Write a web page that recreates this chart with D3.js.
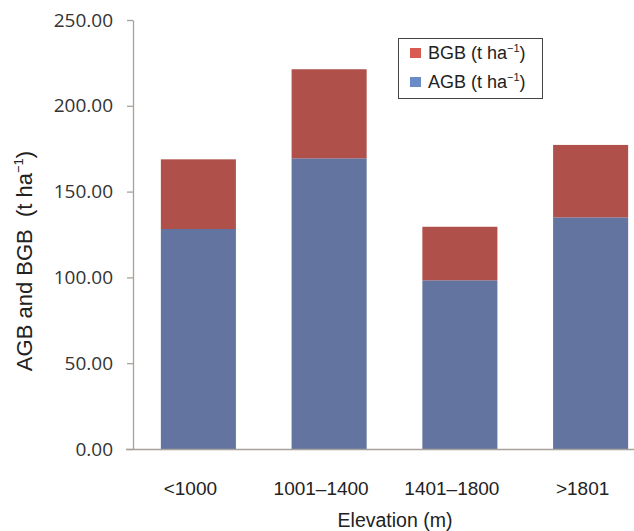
<!DOCTYPE html>
<html>
<head>
<meta charset="utf-8">
<script src="https://cdn.jsdelivr.net/npm/d3@7"></script>
<style>
  html, body { margin: 0; padding: 0; background: #fff; }
  svg { display: block; }
</style>
</head>
<body>
<svg id="chart" width="634" height="531"></svg>
<script>
// Elevation classes and biomass components (t ha-1)
const categories = ["<1000", "1001\u20131400", "1401\u20131800", ">1801"];
const agbValues = [128.2, 169.4, 98.3, 135.0];
const bgbValues = [40.6, 51.9, 31.2, 42.2];
const yTicks = [0, 50, 100, 150, 200, 250];
const seriesNames = ["AGB", "BGB"];

const colors = { AGB: "#62749F", BGB: "#B0504A" };
const legendColors = { AGB: "#6A8BC6", BGB: "#D85A52" };

const svg = d3.select("#chart");

const x0 = 133, plotW = 523, yBottom = 449, yTop = 20;

const x = d3.scaleBand()
  .domain(categories)
  .range([x0, x0 + plotW])
  .paddingInner(0.426)
  .paddingOuter(0.213);

const y = d3.scaleLinear().domain([0, 250]).range([yBottom, yTop]);

const rows = categories.map((c, i) => ({ cat: c, AGB: agbValues[i], BGB: bgbValues[i] }));
const stacked = d3.stack().keys(seriesNames)(rows);

// stacked bars
svg.append("g")
  .selectAll("g")
  .data(stacked)
  .join("g")
  .attr("fill", d => colors[d.key])
  .selectAll("rect")
  .data(d => d)
  .join("rect")
  .attr("x", d => x(d.data.cat))
  .attr("width", x.bandwidth())
  .attr("y", d => y(d[1]))
  .attr("height", d => y(d[0]) - y(d[1]));

// y axis
const yAxis = svg.append("g")
  .attr("transform", `translate(${x0},0)`)
  .call(d3.axisLeft(y).tickValues(yTicks).tickFormat(d3.format(".2f")).tickSize(6).tickPadding(14).tickSizeOuter(0));
yAxis.select(".domain").attr("stroke", "#A8A09A").attr("stroke-width", 1.3);
yAxis.selectAll(".tick line").attr("stroke", "#A8A09A").attr("stroke-width", 1.3);
yAxis.selectAll(".tick text")
  .attr("font-family", "'Open Sans', sans-serif")
  .attr("font-size", 19)
  .attr("fill", "#333");

// x axis
const xAxis = svg.append("g")
  .attr("transform", `translate(0,${yBottom})`)
  .call(d3.axisBottom(x).tickSize(0).tickPadding(0).tickSizeOuter(0));
xAxis.select(".domain").attr("stroke", "#A8A09A").attr("stroke-width", 1.3)
  .attr("d", `M${x0 - 7},0.5H634`);
xAxis.selectAll(".tick text")
  .attr("font-family", "'Liberation Sans', Arial, sans-serif")
  .attr("font-size", 19)
  .attr("fill", "#222")
  .attr("dy", 0)
  .attr("y", 46)
  .attr("dx", -8);

// axis titles
svg.append("text")
  .attr("x", 395)
  .attr("y", 527)
  .attr("text-anchor", "middle")
  .attr("font-family", "'Liberation Sans', Arial, sans-serif")
  .attr("font-size", 19.5)
  .attr("fill", "#222")
  .text("Elevation (m)");

const yTitle = svg.append("text")
  .attr("transform", "translate(32,261) rotate(-90)")
  .attr("text-anchor", "middle")
  .attr("font-family", "'Liberation Sans', Arial, sans-serif")
  .attr("font-size", 22)
  .attr("fill", "#222");
yTitle.append("tspan").text("AGB and BGB \u00a0(t ha");
yTitle.append("tspan").attr("font-size", 13).attr("dy", -9).text("\u22121");
yTitle.append("tspan").attr("dy", 9).text(")");

// legend
const legend = svg.append("g");
legend.append("rect")
  .attr("x", 398.5).attr("y", 38.5)
  .attr("width", 144).attr("height", 60)
  .attr("fill", "#fff").attr("stroke", "#444").attr("stroke-width", 1);

const legendItems = ["BGB", "AGB"];
legendItems.forEach((k, i) => {
  const gy = 48 + i * 29;
  legend.append("rect")
    .attr("x", 410).attr("y", gy)
    .attr("width", 11).attr("height", 10)
    .attr("fill", legendColors[k]);
  const t = legend.append("text")
    .attr("x", 428).attr("y", gy + 11)
    .attr("font-family", "'Liberation Sans', Arial, sans-serif")
    .attr("font-size", 18)
    .attr("fill", "#222");
  t.append("tspan").text(k + " (t ha");
  t.append("tspan").attr("font-size", 11).attr("dy", -7).text("\u22121");
  t.append("tspan").attr("dy", 7).text(")");
});
</script>
</body>
</html>
